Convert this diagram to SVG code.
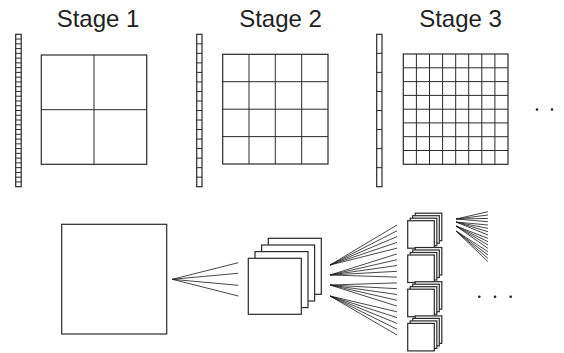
<svg xmlns="http://www.w3.org/2000/svg" width="564" height="353" viewBox="0 0 564 353">
<style>
.t{font-family:"Liberation Sans",Arial,sans-serif;font-size:24px;fill:#222;text-anchor:middle}
.s{fill:#fff;stroke:#2a2a2a;stroke-width:1.2}
.g{fill:none;stroke:#2a2a2a;stroke-width:1}
.f{fill:none;stroke:#1a1a1a;stroke-width:0.8}
.d{fill:#222}
</style>
<defs>
<g id="sq4">
<rect class="s" x="20" y="-20" width="53" height="56"/>
<rect class="s" x="13.3" y="-13.3" width="53" height="56"/>
<rect class="s" x="6.7" y="-6.7" width="53" height="56"/>
<rect class="s" x="0" y="0" width="53" height="56"/>
</g>
<g id="sm4">
<rect class="s" x="7.5" y="-7.5" width="26.6" height="27.5"/>
<rect class="s" x="5" y="-5" width="26.6" height="27.5"/>
<rect class="s" x="2.5" y="-2.5" width="26.6" height="27.5"/>
<rect class="s" x="0" y="0" width="26.6" height="27.5"/>
</g>
</defs>
<g id="stage1">
<text class="t" x="98" y="27">Stage 1</text>
<rect class="s" x="15.7" y="34.3" width="5.5" height="152.4"/>
<path class="g" d="M15.7 39.06h5.5M15.7 43.83h5.5M15.7 48.59h5.5M15.7 53.35h5.5M15.7 58.11h5.5M15.7 62.88h5.5M15.7 67.64h5.5M15.7 72.4h5.5M15.7 77.16h5.5M15.7 81.93h5.5M15.7 86.69h5.5M15.7 91.45h5.5M15.7 96.21h5.5M15.7 100.98h5.5M15.7 105.74h5.5M15.7 110.5h5.5M15.7 115.26h5.5M15.7 120.03h5.5M15.7 124.79h5.5M15.7 129.55h5.5M15.7 134.31h5.5M15.7 139.08h5.5M15.7 143.84h5.5M15.7 148.6h5.5M15.7 153.36h5.5M15.7 158.13h5.5M15.7 162.89h5.5M15.7 167.65h5.5M15.7 172.41h5.5M15.7 177.18h5.5M15.7 181.94h5.5"/>
<rect class="s" x="41.3" y="55" width="105.4" height="109.3"/>
<path class="g" d="M94 55v109.3M41.3 109.7h105.4"/>
</g>
<g id="stage2">
<text class="t" x="280.5" y="27">Stage 2</text>
<rect class="s" x="196.7" y="34.3" width="5.3" height="152.4"/>
<path class="g" d="M196.7 43.83h5.3M196.7 53.35h5.3M196.7 62.88h5.3M196.7 72.4h5.3M196.7 81.93h5.3M196.7 91.45h5.3M196.7 100.98h5.3M196.7 110.5h5.3M196.7 120.03h5.3M196.7 129.55h5.3M196.7 139.08h5.3M196.7 148.6h5.3M196.7 158.13h5.3M196.7 167.65h5.3M196.7 177.18h5.3"/>
<rect class="s" x="222.7" y="54.3" width="105.3" height="109.7"/>
<path class="g" d="M249 54.3v109.7M275.3 54.3v109.7M301.7 54.3v109.7M222.7 81.7h105.3M222.7 109.2h105.3M222.7 136.6h105.3"/>
</g>
<g id="stage3">
<text class="t" x="460.5" y="27">Stage 3</text>
<rect class="s" x="376.7" y="34.3" width="5.3" height="152.4"/>
<path class="g" d="M376.7 53.35h5.3M376.7 72.4h5.3M376.7 91.45h5.3M376.7 110.5h5.3M376.7 129.55h5.3M376.7 148.6h5.3M376.7 167.65h5.3"/>
<rect class="s" x="403.3" y="54" width="104.7" height="110.3"/>
<path class="g" d="M416.4 54v110.3M429.5 54v110.3M442.6 54v110.3M455.7 54v110.3M468.7 54v110.3M481.8 54v110.3M494.9 54v110.3M403.3 67.8h104.7M403.3 81.6h104.7M403.3 95.4h104.7M403.3 109.2h104.7M403.3 122.9h104.7M403.3 136.7h104.7M403.3 150.5h104.7"/>
<circle class="d" cx="537" cy="109.5" r="1.3"/>
<circle class="d" cx="552" cy="109.5" r="1.3"/>
</g>
<g id="input">
<rect class="s" x="61.7" y="224.3" width="105" height="109.7"/>
</g>
<g id="stack1">
<use href="#sq4" x="248.3" y="258.3"/>
</g>
<g id="stack2">
<use href="#sm4" x="407.7" y="220.7"/>
<use href="#sm4" x="407.7" y="255"/>
<use href="#sm4" x="407.7" y="289.2"/>
<use href="#sm4" x="407.7" y="323.4"/>
</g>
<g id="more">
<circle class="d" cx="479.3" cy="296.7" r="1.3"/>
<circle class="d" cx="495" cy="296.7" r="1.3"/>
<circle class="d" cx="510.7" cy="296.7" r="1.3"/>
</g>
<g id="connectors">
<path class="f" d="M172.3 279.3L238.3 262.7M172.3 279.3L238.3 273.3M172.3 279.3L238.3 285.3M172.3 279.3L238.3 296"/>
<path class="f" d="M330 265L397 225M330 265L397 230.8M330 265L397 236.6M330 265L397 242.4M330 265L397 248.2M330 275L397 253.9M330 275L397 259.7M330 275L397 265.5M330 275L397 271.3M330 275L397 277.1M330 285L397 282.9M330 285L397 288.7M330 285L397 294.5M330 285L397 300.3M330 285L397 306.1M330 296L397 311.8M330 296L397 317.6M330 296L397 323.4M330 296L397 329.2M330 296L397 335"/>
<path class="f" d="M456 219L488 211.7M456 219L488 215M456 219L488 218.4M456 219L488 221.7M456 222L488 225M456 222L488 228.4M456 222L488 231.7M456 222L488 235M456 226L488 238.4M456 226L488 241.7M456 226L488 245M456 226L488 248.4M456 231L488 251.7M456 231L488 255M456 231L488 258.4M456 231L488 261.7"/>
</g>
</svg>
